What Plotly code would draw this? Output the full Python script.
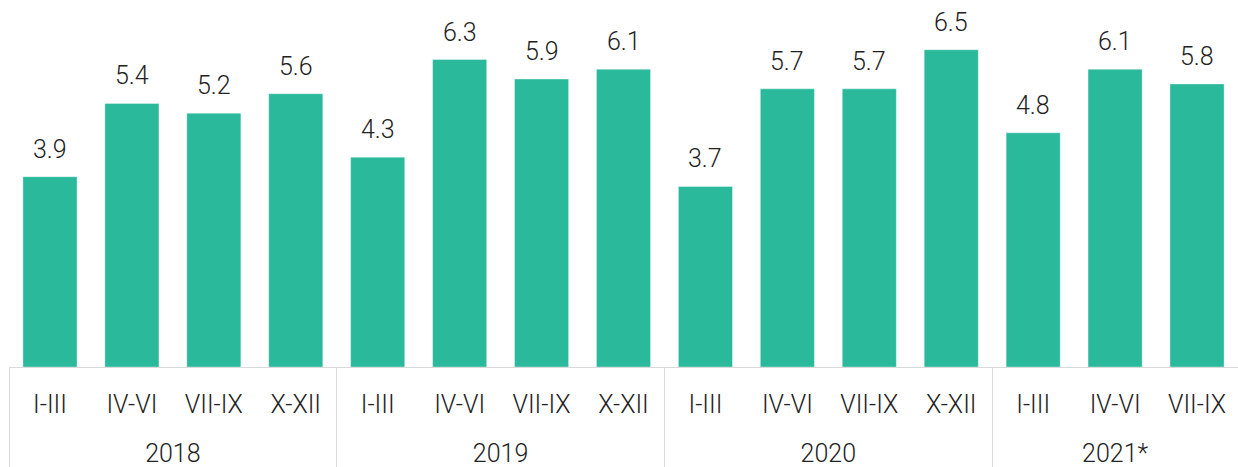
import plotly.graph_objects as go

years = ["2018"] * 4 + ["2019"] * 4 + ["2020"] * 4 + ["2021*"] * 3
quarters = ["I-III", "IV-VI", "VII-IX", "X-XII"] * 3 + ["I-III", "IV-VI", "VII-IX"]
values = [3.9, 5.4, 5.2, 5.6, 4.3, 6.3, 5.9, 6.1, 3.7, 5.7, 5.7, 6.5, 4.8, 6.1, 5.8]

BAR = "#2ab99b"
TXT = "#222222"
FONT = "Roboto"
FS = 25

# first-level labels get an extra blank line so the year row sits lower
quarter_labels = [q + "<br> " for q in quarters]

fig = go.Figure()
fig.add_trace(go.Bar(
    x=[years, quarter_labels],
    y=values,
    marker=dict(color=BAR, line=dict(color="rgba(255,255,255,0.35)", width=1)),
    width=0.66,
    hoverinfo="skip",
))

for i, v in enumerate(values):
    fig.add_annotation(
        x=i, y=v, text=f"{v:.1f}", showarrow=False,
        yanchor="bottom", yshift=11,
        font=dict(family=FONT, size=FS, color=TXT, weight=300),
    )

fig.update_layout(
    width=1238, height=467,
    margin=dict(l=9, r=0, t=0, b=98),
    plot_bgcolor="white", paper_bgcolor="white",
    showlegend=False,
    bargap=0.34,
    font=dict(family=FONT, size=FS, color=TXT, weight=300),
)
fig.update_xaxes(
    type="multicategory",
    showline=True, linecolor="#d9d9d9", linewidth=1,
    showdividers=True, dividercolor="#d9d9d9", dividerwidth=1,
    tickfont=dict(family=FONT, size=FS, color=TXT, weight=300),
    ticklabelstandoff=15,
    ticks="", showgrid=False,
)
fig.update_yaxes(range=[0, 7.52], visible=False, showgrid=False)

fig.write_html("out.html")
